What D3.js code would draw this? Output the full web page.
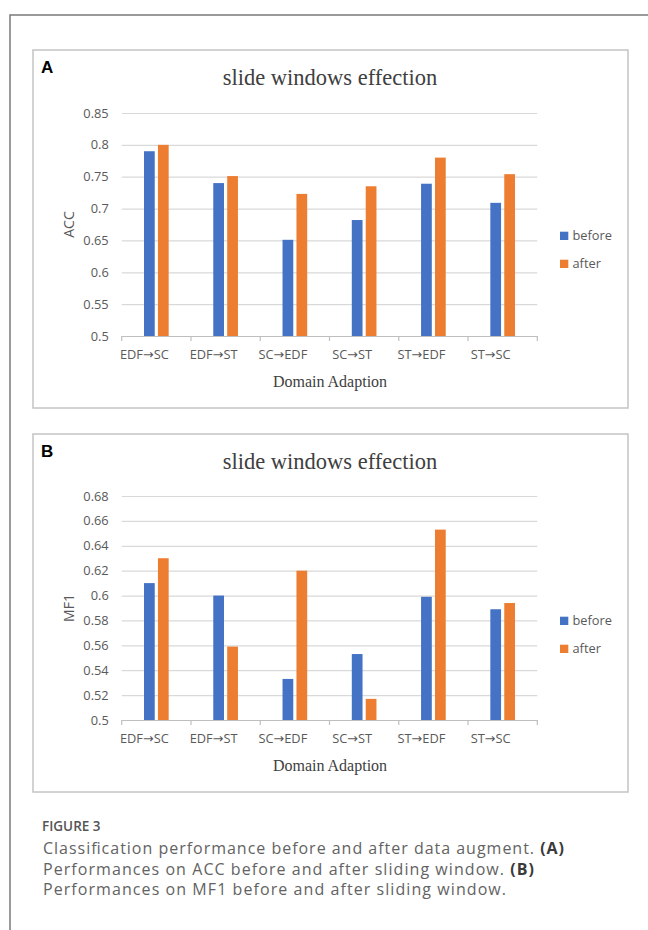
<!DOCTYPE html>
<html>
<head>
<meta charset="utf-8">
<script src="https://cdn.jsdelivr.net/npm/d3@7"></script>
<style>
  body { margin: 0; background: #fff; }
  svg { display: block; }
</style>
</head>
<body>
<div id="chart"></div>
<script>
// data
const categories = ['EDF\u2192SC', 'EDF\u2192ST', 'SC\u2192EDF', 'SC\u2192ST', 'ST\u2192EDF', 'ST\u2192SC'];
const seriesNames = ['before', 'after'];
const seriesColors = ['#4472C4', '#ED7D31'];

const accBefore = [0.790, 0.740, 0.651, 0.682, 0.739, 0.709];
const accAfter = [0.800, 0.751, 0.723, 0.735, 0.780, 0.754];
const accTicks = [0.5, 0.55, 0.6, 0.65, 0.7, 0.75, 0.8, 0.85];

const mf1Before = [0.610, 0.600, 0.533, 0.553, 0.599, 0.589];
const mf1After = [0.630, 0.559, 0.620, 0.517, 0.653, 0.594];
const mf1Ticks = [0.5, 0.52, 0.54, 0.56, 0.58, 0.6, 0.62, 0.64, 0.66, 0.68];

const W = 648, H = 930;
const sans = '"Open Sans", "DejaVu Sans", sans-serif';
const serif = '"Liberation Serif", "DejaVu Serif", serif';

const svg = d3.select('#chart').append('svg')
	.attr('width', W)
	.attr('height', H);

// outer frame (top + left only)
svg.append('path')
	.attr('d', `M10,930 L10,15 L648,15`)
	.style('fill', 'none')
	.style('stroke', '#7a7a7a')
	.style('stroke-width', 1.5);

function panel(opts){
	const {letter, top, bottom, yLabel, before, after, ticks, y0, y1, legendY} = opts;

	const g = svg.append('g').attr('class', 'panel');

	g.append('rect')
		.attr('x', 33).attr('y', top)
		.attr('width', 595).attr('height', bottom - top)
		.style('fill', '#fff')
		.style('stroke', '#c4c4c4')
		.style('stroke-width', 1.5);

	g.append('text')
		.attr('x', 41).attr('y', top + 23)
		.style('font-family', '"Liberation Sans", Arial, sans-serif')
		.style('font-weight', 'bold')
		.style('font-size', '17px')
		.text(letter);

	g.append('text')
		.attr('x', 330).attr('y', top + 35)
		.attr('text-anchor', 'middle')
		.style('font-family', serif)
		.style('font-size', '22.5px')
		.style('fill', '#404040')
		.text('slide windows effection');

	const scaleX = d3.scaleBand().domain(categories).range([121.7, 537.3]);
	const scaleS = d3.scaleBand().domain(seriesNames)
		.range([0, scaleX.bandwidth()])
		.paddingInner(0.23).paddingOuter(1.6);
	const scaleY = d3.scaleLinear().domain(d3.extent(ticks)).range([y0, y1]);

	// gridlines
	const axisY = d3.axisLeft(scaleY)
		.tickValues(ticks)
		.tickFormat(d => String(d))
		.tickSize(-(537.3 - 121.7))
		.tickPadding(13);

	const gy = g.append('g')
		.attr('transform', 'translate(121.7,0)')
		.call(axisY);
	gy.select('.domain').remove();
	gy.selectAll('line').style('stroke', '#d9d9d9').style('stroke-width', 1.2);
	gy.selectAll('text')
		.style('font-family', sans)
		.style('font-size', '12.8px')
		.style('fill', '#595959');

	// bars
	const rows = categories.map((c, i) => ({cat: c, vals: [before[i], after[i]]}));
	g.append('g').selectAll('g')
		.data(rows)
		.join('g')
		.attr('transform', d => `translate(${scaleX(d.cat)},0)`)
		.selectAll('rect')
		.data(d => d.vals.map((v, j) => ({name: seriesNames[j], v: v, color: seriesColors[j]})))
		.join('rect')
		.attr('x', d => scaleS(d.name))
		.attr('width', scaleS.bandwidth())
		.attr('y', d => scaleY(d.v))
		.attr('height', d => y0 - scaleY(d.v))
		.style('fill', d => d.color);

	// x axis
	const axisX = d3.axisBottom(scaleX).tickSize(0).tickPadding(14);
	const gx = g.append('g')
		.attr('transform', `translate(0,${y0})`)
		.call(axisX);
	gx.select('.domain').style('stroke', '#bfbfbf').style('stroke-width', 1.2);
	gx.selectAll('text')
		.attr('dx', -12)
		.style('font-family', sans)
		.style('font-size', '12.8px')
		.style('fill', '#595959');
	// category boundary ticks
	gx.append('g').selectAll('line')
		.data(categories.map(c => scaleX(c)).concat([scaleX.range()[1]]))
		.join('line')
		.attr('x1', d => d).attr('x2', d => d)
		.attr('y1', 0).attr('y2', 5)
		.style('stroke', '#bfbfbf')
		.style('stroke-width', 1.2);

	// axis titles
	g.append('text')
		.attr('transform', `translate(74,${(y0 + y1) / 2}) rotate(-90)`)
		.attr('text-anchor', 'middle')
		.style('font-family', sans)
		.style('font-size', '14px')
		.style('fill', '#595959')
		.text(yLabel);

	g.append('text')
		.attr('x', 330).attr('y', y0 + 51)
		.attr('text-anchor', 'middle')
		.style('font-family', serif)
		.style('font-size', '16px')
		.style('fill', '#404040')
		.text('Domain Adaption');

	// legend
	const leg = g.append('g').selectAll('g')
		.data(seriesNames)
		.join('g')
		.attr('transform', (d, i) => `translate(560,${legendY + i * 28})`);
	leg.append('rect')
		.attr('width', 8.3).attr('height', 8.3)
		.style('fill', (d, i) => seriesColors[i]);
	leg.append('text')
		.attr('x', 12.5).attr('y', 8.5)
		.style('font-family', sans)
		.style('font-size', '12.8px')
		.style('fill', '#595959')
		.text(d => d);
}

panel({letter: 'A', top: 50, bottom: 408, yLabel: 'ACC',
	before: accBefore, after: accAfter, ticks: accTicks, y0: 336, y1: 113, legendY: 231.7});
panel({letter: 'B', top: 434, bottom: 792, yLabel: 'MF1',
	before: mf1Before, after: mf1After, ticks: mf1Ticks, y0: 720, y1: 496, legendY: 616.7});

// caption
svg.append('text')
	.attr('x', 42).attr('y', 831)
	.style('font-family', sans)
	.style('font-weight', 600)
	.style('font-size', '13.5px')
	.style('fill', '#555')
	.text('FIGURE 3');

const capLines = [
	[['Classification performance before and after data augment. ', false], ['(A)', true]],
	[['Performances on ACC before and after sliding window. ', false], ['(B)', true]],
	[['Performances on MF1 before and after sliding window.', false]]
];
const capWidths = [521, 491, 463];
capLines.forEach((line, i) => {
	const t = svg.append('text')
		.attr('x', 43).attr('y', 854 + i * 20.5)
		.attr('textLength', capWidths[i])
		.attr('lengthAdjust', 'spacing')
		.style('font-family', sans)
		.style('font-size', '16px')
		.style('fill', '#636363');
	line.forEach(part => {
		const s = t.append('tspan').text(part[0]);
		if (part[1]) s.style('font-weight', 'bold').style('fill', '#3a3a3a');
	});
});
</script>
</body>
</html>
